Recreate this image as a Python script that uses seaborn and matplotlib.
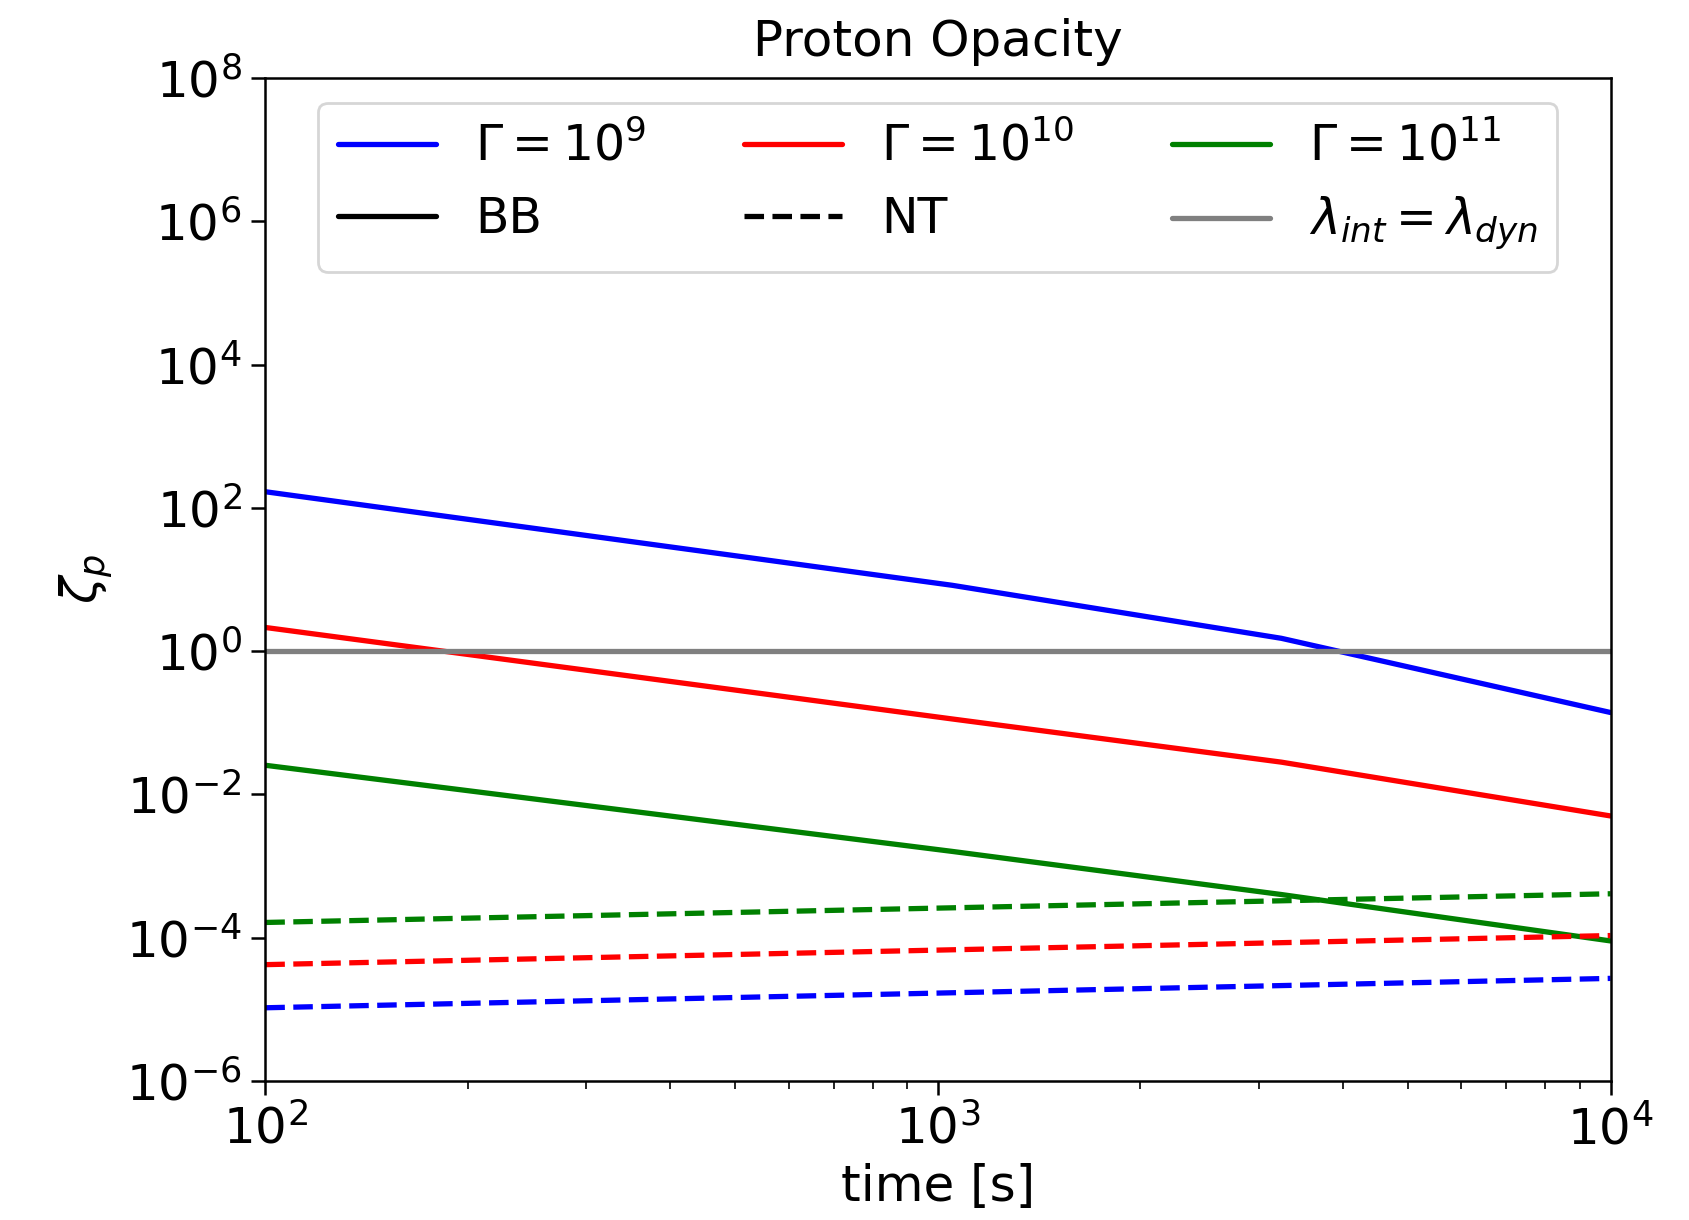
import matplotlib
matplotlib.use("Agg")
import matplotlib.pyplot as plt
from matplotlib.lines import Line2D
import seaborn as sns
import numpy as np

# ---- data ----
t_bb = [100, 1050, 3240, 10000]
bb_g9 = [168, 8.3, 1.51, 0.139]
bb_g10 = [2.14, 0.113, 0.0282, 0.0050]
bb_g11 = [0.0255, 0.0016, 0.0004, 0.00009]

t_nt = [100, 10000]
nt_g9 = [1.05e-5, 2.7e-5]
nt_g10 = [4.2e-5, 1.07e-4]
nt_g11 = [1.63e-4, 4.1e-4]

t_ref = [100, 10000]
ref_line = [1.0, 1.0]

labels = [r"$\Gamma = 10^9$", r"$\Gamma = 10^{10}$", r"$\Gamma = 10^{11}$"]
colors = ["blue", "red", "green"]

sns.set_style("ticks")
plt.rcParams["font.family"] = ["DejaVu Sans"]
plt.rcParams["mathtext.fontset"] = "dejavusans"
for k in ["text.color", "axes.labelcolor", "xtick.color", "ytick.color", "axes.edgecolor"]:
    plt.rcParams[k] = "black"
fs = 18

fig, ax = plt.subplots(figsize=(8.45, 6.1), dpi=200)
fig.subplots_adjust(left=0.157, right=0.953, top=0.936, bottom=0.114)

lw = 1.9
for y, c in zip([bb_g9, bb_g10, bb_g11], colors):
    sns.lineplot(x=t_bb, y=y, color=c, lw=lw, ax=ax, estimator=None, sort=False)
for y, c in zip([nt_g9, nt_g10, nt_g11], colors):
    sns.lineplot(x=t_nt, y=y, color=c, lw=lw, ax=ax, estimator=None, sort=False, linestyle="--")
sns.lineplot(x=t_ref, y=ref_line, color="gray", lw=lw, ax=ax, estimator=None)

ax.set_xscale("log")
ax.set_yscale("log")
ax.set_xlim(1e2, 1e4)
ax.set_ylim(1e-6, 1e8)
ax.set_yticks([10.0**k for k in range(-6, 9, 2)])
ax.yaxis.set_minor_locator(matplotlib.ticker.NullLocator())
ax.tick_params(axis="both", which="major", labelsize=fs, direction="out", length=5, width=0.9,
               color="black", labelcolor="black")
ax.tick_params(axis="x", which="minor", length=3, width=0.6, color="black")
for s in ax.spines.values():
    s.set_visible(True)
    s.set_linewidth(0.9)
    s.set_color("black")

ax.set_xlabel("time [s]", fontsize=fs, color="black", labelpad=3)
ax.set_ylabel(r"$\zeta_p$", fontsize=fs, color="black")
ax.set_title("Proton Opacity", fontsize=fs, color="black", pad=8)

handles = [
    Line2D([], [], color="blue", lw=lw), Line2D([], [], color="black", lw=lw),
    Line2D([], [], color="red", lw=lw), Line2D([], [], color="black", lw=lw, ls="--"),
    Line2D([], [], color="green", lw=lw), Line2D([], [], color="gray", lw=lw),
]
leg_labels = [labels[0], "BB", labels[1], "NT", labels[2], r"$\lambda_{int} = \lambda_{dyn}$"]
leg = ax.legend(handles, leg_labels, loc="upper center", ncol=3, fontsize=17.6, frameon=True,
                fancybox=True, framealpha=0.8, edgecolor="#cccccc")
for t in leg.get_texts():
    t.set_color("black")

fig.savefig("out.png", dpi=200)
